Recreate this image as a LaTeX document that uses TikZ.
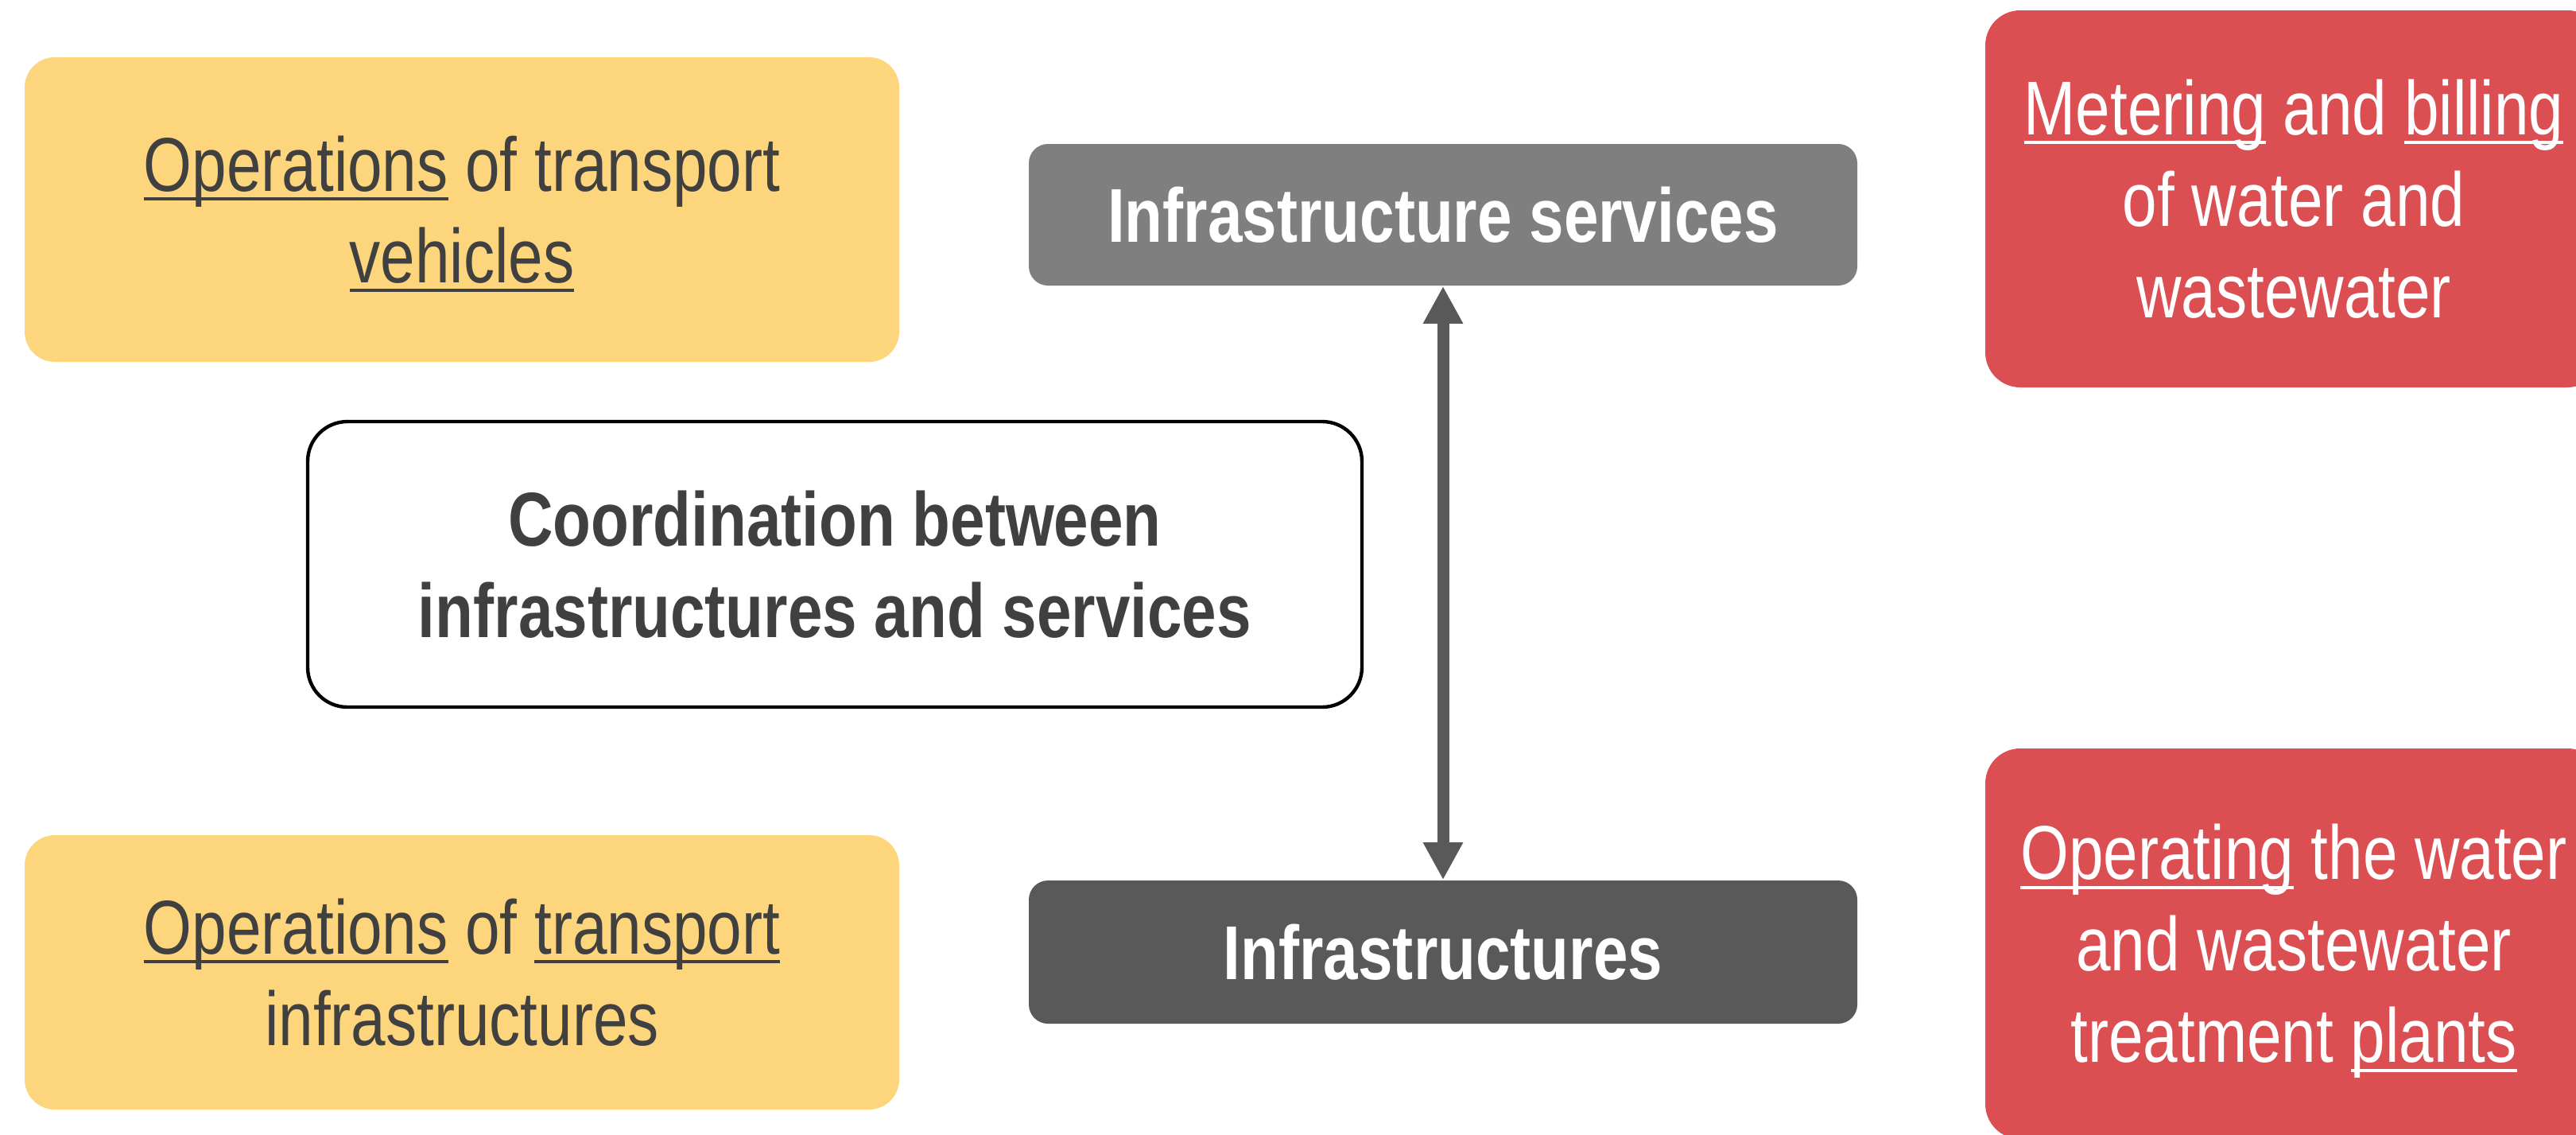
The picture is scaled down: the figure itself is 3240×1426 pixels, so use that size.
\documentclass[tikz,border=0pt]{standalone}
\usepackage{fontspec}
\setmainfont{Liberation Sans}[FakeStretch=0.815]
\usetikzlibrary{arrows.meta}
\definecolor{ylw}{HTML}{FDD57C}
\definecolor{redb}{HTML}{DB4E52}
\definecolor{grayA}{HTML}{7F7F7F}
\definecolor{grayB}{HTML}{595959}
\definecolor{txt}{HTML}{404040}
\newsavebox\ulbox
\newcommand\myul[1]{\sbox\ulbox{#1}\rlap{\rule[-3pt]{\wd\ulbox}{1pt}}\usebox\ulbox}
\newcommand\sst{\rule[-5.5pt]{0pt}{28pt}}
\begin{document}
\begin{tikzpicture}[x=0.25pt,y=-0.25pt,
  box/.style={rectangle, inner sep=0pt, align=center, font=\fontsize{24}{28.75}\selectfont},
  ybox/.style={box, fill=ylw, text=txt, rounded corners=9.5pt, minimum width=275pt},
  rbox/.style={box, fill=redb, text=white, rounded corners=11pt, minimum width=194pt},
  gbox/.style={box, text=white, font=\fontsize{24}{28.75}\selectfont\bfseries, rounded corners=6pt, minimum width=260.5pt},
  link/.style={line width=3.75pt, draw=grayB, {Triangle[width=11.75pt,length=11.75pt]}-{Triangle[width=11.75pt,length=11.75pt]}}]
\useasboundingbox (0,0) rectangle (3240,1426);
\clip (0,0) rectangle (3240,1426);
\fill[white] (0,0) rectangle (3240,1426);

\node[ybox, minimum height=95.75pt] (ytop) at (581,263.5)
  {\sst\myul{Operations} of transport\\\sst\myul{vehicles}};
\node[ybox, minimum height=86.25pt] (ybot) at (581,1222.5)
  {\sst\myul{Operations} of \myul{transport}\\\sst infrastructures};

\node[gbox, fill=grayA, minimum height=44.5pt] (gtop) at (1815,270)
  {\sst Infrastructure services};
\node[gbox, fill=grayB, minimum height=45pt] (gbot) at (1815,1197)
  {\sst Infrastructures};

\node[box, font=\fontsize{24}{28.75}\selectfont\bfseries, text=txt, fill=white, draw=black, line width=1.1pt, rounded corners=12.5pt, minimum width=331.5pt, minimum height=89.75pt] (coord) at (1050,709.5)
  {\sst Coordination between\\\sst infrastructures and services};

\node[rbox, minimum height=118.5pt] (rtop) at (2885,250)
  {\sst\myul{Metering} and \myul{billing}\\\sst of water and\\\sst wastewater};
\node[rbox, minimum height=122.75pt] (rbot) at (2885,1186.5)
  {\sst\myul{Operating} the water\\\sst and wastewater\\\sst treatment \myul{plants}};

\draw[link] (gtop) -- (gbot);
\end{tikzpicture}
\end{document}
